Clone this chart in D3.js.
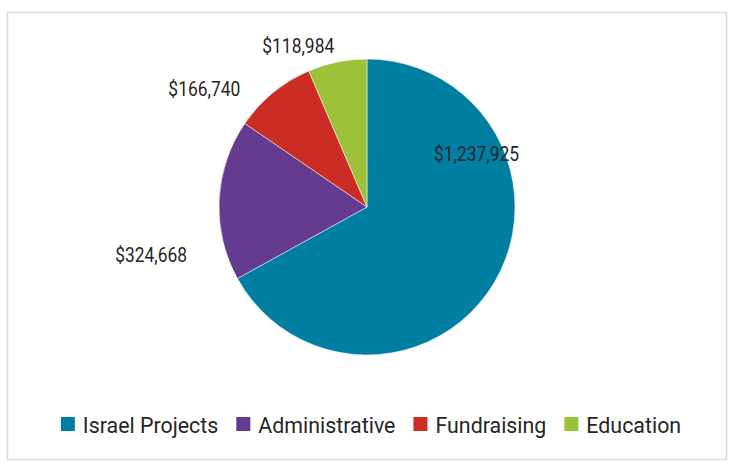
<!DOCTYPE html>
<html>
<head>
<meta charset="utf-8">
<script src="https://cdn.jsdelivr.net/npm/d3@7"></script>
<style>
  body { margin: 0; background: #fff; }
  text { font-family: Roboto, "DejaVu Sans", sans-serif; fill: #262626; }
</style>
</head>
<body>
<script>
// chart values
let categories = ["Israel Projects", "Administrative", "Fundraising", "Education"];
let amounts = [1237925, 324668, 166740, 118984];
let colors = ["#007fa3", "#643b8e", "#cb2c23", "#9dc23a"];

let width = 735, height = 467;
let cx = 367, cy = 207, radius = 148;

let svg = d3.select("body").append("svg")
  .attr("width", width)
  .attr("height", height);

// frame
svg.append("rect")
  .attr("x", 7.5).attr("y", 12.5)
  .attr("width", 719).attr("height", 447)
  .attr("fill", "none")
  .attr("stroke", "#d9d9d9")
  .attr("stroke-width", 1.5);

let pie = d3.pie().sort(null).value(d => d);
let arcs = pie(amounts);
let arc = d3.arc().innerRadius(0).outerRadius(radius);

let g = svg.append("g").attr("transform", `translate(${cx},${cy})`);

g.selectAll("path.slice")
  .data(arcs)
  .enter().append("path")
  .attr("class", "slice")
  .attr("d", arc)
  .attr("fill", (d, i) => colors[i])
  .attr("stroke", "#fff")
  .attr("stroke-width", 0.5);

// data labels - big slice inside, small ones outside (excel "best fit")
// no condensed font installed, so squeeze roboto horizontally
let fmt = d3.format("$,");
let outArc = d3.arc().innerRadius(radius + 20).outerRadius(radius + 20);
let labelNudge = [[0, 0], [-48, 56], [-56, 11], [-35, 3]];

g.selectAll("text.lbl")
  .data(arcs)
  .enter().append("text")
  .attr("class", "lbl")
  .attr("transform", function(d, i) {
    let p;
    if (i === 0) {
      let a = d.startAngle + 1.115 - Math.PI / 2;
      p = [122 * Math.cos(a), 122 * Math.sin(a)];
    } else {
      p = outArc.centroid(d);
    }
    return `translate(${p[0] + labelNudge[i][0]},${p[1] + labelNudge[i][1]}) scale(0.83,1)`;
  })
  .attr("text-anchor", "middle")
  .attr("dy", "0.35em")
  .style("font-size", "21px")
  .text(d => fmt(d.data));

// legend
let legend = svg.append("g");
let x0 = 0;
let sx = 0.93;
categories.forEach(function(c, i) {
  let item = legend.append("g").attr("transform", `translate(${x0},0)`);
  item.append("rect")
    .attr("x", 0).attr("y", -7)
    .attr("width", 14).attr("height", 14)
    .attr("fill", colors[i]);
  let t = item.append("text")
    .attr("transform", `translate(22,9) scale(${sx},1)`)
    .style("font-size", "23px")
    .text(c);
  x0 += 22 + t.node().getComputedTextLength() * sx + 18;
});
let legendWidth = x0 - 18;
legend.attr("transform", `translate(${371 - legendWidth / 2},424)`);
</script>
</body>
</html>
